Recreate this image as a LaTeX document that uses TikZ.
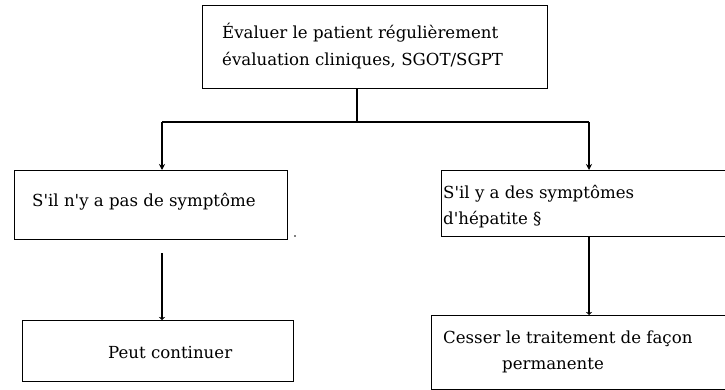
\documentclass[tikz,border=0pt]{standalone}
\usepackage{fontspec}
\setmainfont{DejaVu Serif}
\usetikzlibrary{arrows.meta}
\begin{document}
\begin{tikzpicture}[x=1pt,y=-1pt,
  boxst/.style={draw, line width=1.3pt, anchor=north west, inner sep=0pt},
  txt/.style={anchor=base west, inner sep=0pt, font=\fontsize{16.6}{27}\selectfont},
  conn/.style={line width=1.3pt},
  arr/.style={conn, -{Stealth[length=6pt,width=6pt]}},
  tarr/.style={conn, -{Stealth[length=3pt,width=6pt]}}]
\useasboundingbox (0,0) rectangle (725,390);
\clip (0,0) rectangle (725,390);
% boxes
\node[boxst, minimum width=345pt, minimum height=83pt] (top) at (202,5) {};
\node[boxst, minimum width=273pt, minimum height=69pt] (left) at (14,170) {};
\node[boxst, minimum width=300pt, minimum height=66pt] (right) at (441,170) {};
\node[boxst, minimum width=271pt, minimum height=61pt] (bl) at (22,320) {};
\node[boxst, minimum width=310pt, minimum height=74pt] (br) at (431,315) {};
% texts
\node[txt] (t1) at (222,39) {Évaluer le patient régulièrement};
\node[txt] (t2) at (222,66) {évaluation cliniques, SGOT/SGPT};
\node[txt] (t3) at (32,206) {S\textquotesingle il n\textquotesingle y a pas de symptôme};
\node[txt] (t4) at (443,198) {S\textquotesingle il y a des symptômes};
\node[txt] (t5) at (443,224) {d\textquotesingle hépatite §};
\node[txt] (t6) at (108,358) {Peut continuer};
\node[txt] (t7) at (443,343) {Cesser le traitement de façon};
\node[txt] (t8) at (502,369) {permanente};
% connectors
\coordinate (split) at (357,122);
\coordinate (lc) at (162,122);
\coordinate (rc) at (589,122);
\coordinate (ls) at (162,253);
\draw[conn] (top.south -| split) -- (split);
\draw[conn] (lc) -- (rc);
\draw[arr] (lc) -- (lc |- left.north);
\draw[arr] (rc) -- (rc |- right.north);
\draw[tarr] (ls) -- (ls |- bl.north);
\draw[tarr] (rc |- right.south) -- (rc |- br.north);
\node[circle, fill, inner sep=0.6pt] (dot) at (295,236) {};
\end{tikzpicture}
\end{document}
